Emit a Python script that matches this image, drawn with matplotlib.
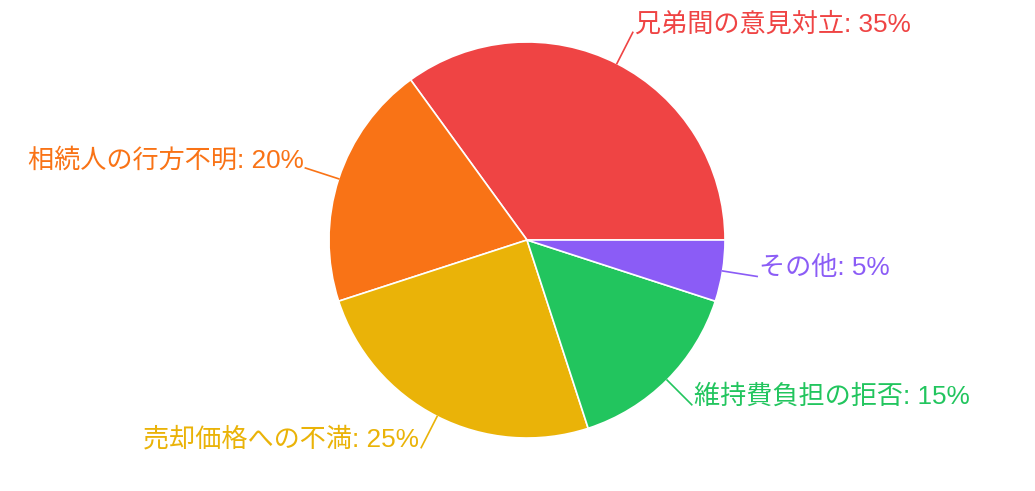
import numpy as np
import matplotlib.pyplot as plt

plt.rcParams['font.family'] = ['Liberation Sans', 'Noto Sans CJK JP', 'DejaVu Sans']

labels = ["兄弟間の意見対立", "相続人の行方不明", "売却価格への不満", "維持費負担の拒否", "その他"]
values = [35, 20, 25, 15, 5]
colors = ["#ef4444", "#f97316", "#eab308", "#22c55e", "#8b5cf6"]

W, H = 1035, 491
cx, cy = 527, H - 240
R = 198
label_off = 35

fig = plt.figure(figsize=(W / 100, H / 100), dpi=100)
ax = fig.add_axes([0, 0, 1, 1])
ax.set_xlim(0, W)
ax.set_ylim(0, H)
ax.set_aspect('equal')
ax.axis('off')

wedges, _ = ax.pie(values, colors=colors, startangle=0, counterclock=True,
                   center=(cx, cy), radius=R,
                   wedgeprops=dict(edgecolor='white', linewidth=1.2))
ax.set_xlim(0, W)
ax.set_ylim(0, H)

total = sum(values)
for w, lab, v, c in zip(wedges, labels, values, colors):
    mid = np.deg2rad((w.theta1 + w.theta2) / 2)
    x0, y0 = cx + R * np.cos(mid), cy + R * np.sin(mid)
    x1, y1 = cx + (R + label_off) * np.cos(mid), cy + (R + label_off) * np.sin(mid)
    ax.plot([x0, x1], [y0, y1], color=c, lw=1.2)
    right = np.cos(mid) >= 0
    ax.text(x1 + (2 if right else -2), y1 + 8, f"{lab}: {round(100 * v / total)}%",
            color=c, fontsize=18.8, ha='left' if right else 'right', va='center')

fig.savefig("out.png", dpi=100)
